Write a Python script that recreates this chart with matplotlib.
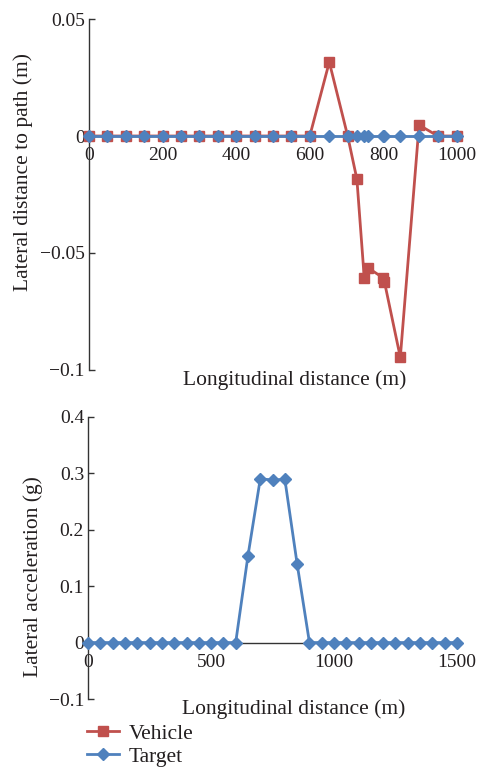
import matplotlib
matplotlib.use("Agg")
import matplotlib.pyplot as plt

plt.rcParams['font.family'] = ['Liberation Serif', 'DejaVu Serif']
plt.rcParams['font.size'] = 15.5

RED = '#C0504D'
BLUE = '#4F81BD'
INK = '#231F20'

# top chart: lateral distance to path
dist_x = [0, 50, 100, 150, 200, 250, 300, 350, 400, 450, 500, 550, 600,
          653, 703, 728, 748, 758, 799, 803, 846, 897, 948, 1000]
vehicle_dev = [0, 0, 0, 0, 0, 0, 0, 0, 0, 0, 0, 0, 0,
               0.0316, 0, -0.0184, -0.0606, -0.0563, -0.0606, -0.0624, -0.0946, 0.0047, 0, 0]
target_dev = [0] * 24

top_xticks = [0, 200, 400, 600, 800, 1000]
top_yticks = [0.05, 0, -0.05, -0.1]
top_ylabels = ['0.05', '0', '\u22120.05', '\u22120.1']

# bottom chart: lateral acceleration
acc_x = [0, 50, 100, 150, 200, 250, 300, 350, 400, 450, 500, 550, 600,
         650, 700, 750, 800, 850, 900, 950, 1000, 1050, 1100, 1150, 1200,
         1250, 1300, 1350, 1400, 1450, 1500]
target_acc = [0, 0, 0, 0, 0, 0, 0, 0, 0, 0, 0, 0, 0,
              0.154, 0.290, 0.288, 0.289, 0.139, 0, 0, 0, 0, 0, 0, 0,
              0, 0, 0, 0, 0, 0]

bot_xticks = [0, 500, 1000, 1500]
bot_yticks = [0.4, 0.3, 0.2, 0.1, 0, -0.1]
bot_ylabels = ['0.4', '0.3', '0.2', '0.1', '0', '\u22120.1']


def style_axes(ax):
    for s in ['top', 'right']:
        ax.spines[s].set_visible(False)
    ax.spines['bottom'].set_position(('data', 0))
    for s in ['left', 'bottom']:
        ax.spines[s].set_color('#333333')
        ax.spines[s].set_linewidth(1.0)
    ax.tick_params(axis='x', length=0, pad=8, colors=INK, labelsize=14)
    ax.tick_params(axis='y', direction='in', length=4, width=1, pad=3,
                   colors='#333333', labelcolor=INK, labelsize=14)


fig = plt.figure(figsize=(4.82, 7.70), dpi=100)

ax1 = fig.add_axes([0.1846, 0.5195, 0.7635, 0.4558])
l_veh, = ax1.plot(dist_x, vehicle_dev, color=RED, lw=2, marker='s', ms=7.5,
                  clip_on=False, zorder=3, label='Vehicle')
l_tar, = ax1.plot(dist_x, target_dev, color=BLUE, lw=2, marker='D', ms=6.5,
                  clip_on=False, zorder=4, label='Target')
ax1.set_xlim(0, 1000)
ax1.set_ylim(-0.1, 0.05)
ax1.set_xticks(top_xticks)
ax1.set_xticklabels([str(t) for t in top_xticks])
ax1.set_yticks(top_yticks)
ax1.set_yticklabels(top_ylabels)
style_axes(ax1)
ax1.set_xlabel('Longitudinal distance (m)', color=INK)
ax1.xaxis.set_label_coords(0.56, 0.0)
ax1.set_ylabel('Lateral distance to path (m)', color=INK)
ax1.yaxis.set_label_coords(-0.152, 0.5655)

ax2 = fig.add_axes([0.183, 0.0922, 0.765, 0.3666])
ax2.plot(acc_x, target_acc, color=BLUE, lw=2, marker='D', ms=6.5,
         clip_on=False, zorder=4)
ax2.set_xlim(0, 1500)
ax2.set_ylim(-0.1, 0.4)
ax2.set_xticks(bot_xticks)
ax2.set_xticklabels([str(t) for t in bot_xticks])
ax2.set_yticks(bot_yticks)
ax2.set_yticklabels(bot_ylabels)
style_axes(ax2)
ax2.set_xlabel('Longitudinal distance (m)', color=INK)
ax2.xaxis.set_label_coords(0.558, 0.0)
ax2.set_ylabel('Lateral acceleration (g)', color=INK)
ax2.yaxis.set_label_coords(-0.122, 0.434)

fig.legend(handles=[l_veh, l_tar], loc='upper left', bbox_to_anchor=(0.1805, 0.060),
           frameon=False, borderpad=0, borderaxespad=0, handlelength=1.5,
           handletextpad=0.45, labelspacing=0.14, fontsize=15.5, labelcolor=INK)

fig.savefig('out.png', dpi=100)
